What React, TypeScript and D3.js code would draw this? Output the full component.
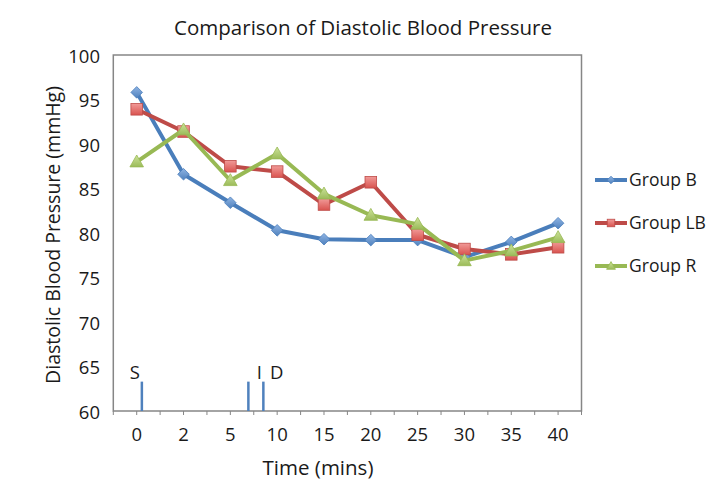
import React from "react";
import * as d3 from "d3";

const categories = ["0", "2", "5", "10", "15", "20", "25", "30", "35", "40"];
const groupB = [95.8, 86.6, 83.4, 80.3, 79.3, 79.2, 79.2, 77.3, 79.0, 81.1];
const groupLB = [93.9, 91.4, 87.5, 86.9, 83.2, 85.7, 79.8, 78.2, 77.6, 78.4];
const groupR = [88.0, 91.6, 85.9, 88.9, 84.4, 82.0, 81.0, 76.9, 78.0, 79.5];
const yTicks = [60, 65, 70, 75, 80, 85, 90, 95, 100];
const seriesNames = ["Group B", "Group LB", "Group R"];
// events: position in category-index units, top value, label position
const events = [
  { label: "S", pos: 0.11, top: 63.3, labelPos: -0.04 },
  { label: "I", pos: 2.385, top: 63.3, labelPos: 2.62 },
  { label: "D", pos: 2.705, top: 63.3, labelPos: 2.99 },
];

const W = 711;
const H = 486;
const M = { left: 113.3, right: 581.5, top: 55, bottom: 411 };
const FONT = "'Open Sans', 'Noto Sans', sans-serif";
const colors = [
  { line: "#4A7EBB", fill: "#4F81BD", light: "#8FB4E3" },
  { line: "#BE4B48", fill: "#D9534F", light: "#F19A98" },
  { line: "#98B954", fill: "#9BBB59", light: "#CDE39A" },
];

function Marker({ i, x, y, s }: { i: number; x: number; y: number; s: number }) {
  const c = colors[i];
  const fill = `url(#grad${i})`;
  if (i === 0) {
    const r = 5.8 * s;
    return (
      <path
        d={`M${x},${y - r}L${x + r},${y}L${x},${y + r}L${x - r},${y}Z`}
        fill={fill}
        stroke={c.line}
        strokeWidth={0.8}
      />
    );
  }
  if (i === 1) {
    const r = 5.8 * s;
    return <rect x={x - r} y={y - r} width={2 * r} height={2 * r} fill={fill} stroke={c.line} strokeWidth={0.8} />;
  }
  const r = 6.8 * s;
  return (
    <path
      d={`M${x},${y - r}L${x + r},${y + r * 0.75}L${x - r},${y + r * 0.75}Z`}
      fill={fill}
      stroke={c.line}
      strokeWidth={0.8}
    />
  );
}

export default function App() {
  const x = d3.scaleBand<string>().domain(categories).range([M.left, M.right]).padding(0);
  const xi = d3
    .scaleLinear()
    .domain([-0.5, categories.length - 0.5])
    .range([M.left, M.right]);
  const y = d3.scaleLinear().domain([60, 100]).range([M.bottom, M.top]);
  const cx = (c: string) => (x(c) as number) + x.bandwidth() / 2;
  const series = [groupB, groupLB, groupR];
  const line = d3
    .line<number>()
    .x((_, i) => cx(categories[i]))
    .y((d) => y(d));

  const tickPositions: number[] = [];
  for (let k = 0; k <= categories.length * 2; k++) tickPositions.push(xi(-0.5 + k / 2));

  const legendY = [180, 223, 266];
  const fs = 18.5;

  return (
    <svg
      width={W}
      height={H}
      style={{ position: "absolute", left: 0, top: 0, background: "#fff" }}
      fontFamily={FONT}
    >
      <defs>
        {colors.map((c, i) => (
          <linearGradient key={i} id={`grad${i}`} x1="0" y1="0" x2="0" y2="1">
            <stop offset="0" stopColor={c.light} />
            <stop offset="1" stopColor={c.fill} />
          </linearGradient>
        ))}
      </defs>
      <rect width={W} height={H} fill="#fff" />
      <text x={363} y={28} dy="0.36em" textAnchor="middle" fontSize={20.5} fill="#1a1a1a">
        Comparison of Diastolic Blood Pressure
      </text>

      {/* plot frame */}
      <rect
        x={M.left}
        y={M.top}
        width={M.right - M.left}
        height={M.bottom - M.top}
        fill="none"
        stroke="#868686"
        strokeWidth={1.5}
      />

      {/* x ticks */}
      {tickPositions.map((tx, k) => (
        <line key={k} x1={tx} x2={tx} y1={M.bottom} y2={M.bottom + 4} stroke="#868686" strokeWidth={1} />
      ))}

      {/* y tick labels */}
      {yTicks.map((t) => (
        <text key={t} x={100} y={y(t) + 1} dy="0.36em" textAnchor="end" fontSize={fs} fill="#1a1a1a">
          {t}
        </text>
      ))}

      {/* x tick labels */}
      {categories.map((c) => (
        <text key={c} x={cx(c)} y={434} dy="0.36em" textAnchor="middle" fontSize={fs} fill="#1a1a1a">
          {c}
        </text>
      ))}

      {/* axis titles */}
      <text x={318} y={468} dy="0.36em" textAnchor="middle" fontSize={20.5} fill="#1a1a1a">
        Time (mins)
      </text>
      <text
        transform={`translate(53,${(M.top + M.bottom) / 2 + 2}) rotate(-90)`}
        textAnchor="middle"
        dy="0.36em"
        fontSize={19.5}
        fill="#1a1a1a"
      >
        Diastolic Blood Pressure (mmHg)
      </text>

      {/* events */}
      {events.map((e) => (
        <g key={e.label}>
          <line
            x1={xi(e.pos)}
            x2={xi(e.pos)}
            y1={y(e.top)}
            y2={M.bottom}
            stroke="#4F81BD"
            strokeWidth={2.5}
          />
          <text x={xi(e.labelPos)} y={372} dy="0.36em" textAnchor="middle" fontSize={fs} fill="#1a1a1a">
            {e.label}
          </text>
        </g>
      ))}

      {/* series */}
      {series.map((s, i) => (
        <g key={i}>
          <path d={line(s) as string} fill="none" stroke={colors[i].line} strokeWidth={4} strokeLinejoin="round" />
          {s.map((v, j) => (
            <Marker key={j} i={i} x={cx(categories[j])} y={y(v)} s={1} />
          ))}
        </g>
      ))}

      {/* legend */}
      {seriesNames.map((n, i) => (
        <g key={n}>
          <line x1={595} x2={627} y1={legendY[i]} y2={legendY[i]} stroke={colors[i].line} strokeWidth={4} />
          <Marker i={i} x={611} y={legendY[i]} s={0.65} />
          <text x={629} y={legendY[i]} dy="0.36em" fontSize={17.5} fill="#1a1a1a">
            {n}
          </text>
        </g>
      ))}
    </svg>
  );
}
